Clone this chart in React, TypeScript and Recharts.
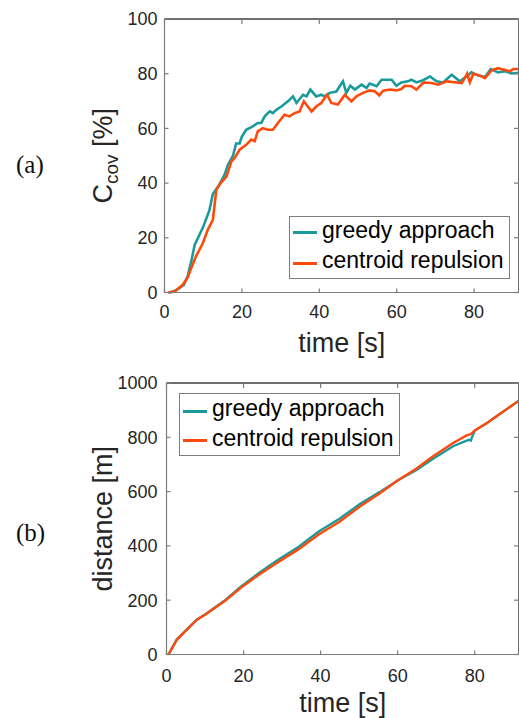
import React from 'react'
import { LineChart, Line, XAxis, YAxis, Legend } from 'recharts'

// coverage C_cov [%] over time [s]
const coverageGreedy: [number, number][] = [
  [1, 0], [2, 0.3], [3, 0.8], [4, 1.8], [5, 2.8], [6, 6], [7, 12], [7.8, 17.4], [9, 21], [10, 24],
  [11.6, 30], [12.5, 36], [14, 39], [15.5, 43], [16.4, 46.7], [17.7, 50], [18.5, 54.5], [19.4, 54.5],
  [20, 57], [21.1, 59.5], [22.8, 60.7], [24.1, 62], [25, 62], [25.9, 64.4], [27.2, 66.2], [28, 65.6],
  [28.9, 66.8], [30.2, 68], [31.9, 69.9], [33.2, 71.7], [34.1, 69.3], [35.8, 72.3], [36.7, 71.7],
  [37.7, 74.2], [39.2, 71.7], [40.5, 72.3], [41.4, 71.7], [42.7, 73], [44.4, 73.5], [46.1, 77.2],
  [47, 73], [48, 75.6], [49.2, 74.2], [50.9, 76], [52.2, 74.8], [53, 76.4], [54.8, 75.4], [56.1, 77.8],
  [58.7, 77.8], [59.9, 75.6], [61.2, 76.8], [62.9, 77.2], [63.8, 77.8], [65.1, 76.8], [66.8, 77.6],
  [68.6, 79], [70.3, 77.2], [72, 76.8], [74.2, 79.6], [76.3, 77.2], [78.1, 79], [79.3, 80.5],
  [81.1, 79.3], [82.8, 78.8], [84.3, 81.7], [86.2, 80.5], [88, 80.9], [89.7, 80.1], [91.6, 80.3],
]

const coverageCentroid: [number, number][] = [
  [1, 0], [2.6, 0.4], [4.7, 2.8], [6, 5.5], [6.9, 8.9], [8.2, 13.4], [9.9, 18], [11.2, 23], [12.5, 26.6],
  [13.4, 37.6], [14.5, 40], [16, 42.4], [17.3, 48], [18.1, 49.1], [19.4, 52.2], [21.1, 54], [22.4, 55.9],
  [23.3, 55.3], [24.1, 58.9], [25.4, 60.1], [26.7, 59.5], [28, 59.5], [29.3, 62], [31, 65], [32.3, 64.4],
  [33.6, 65.6], [34.9, 66.2], [36, 69.9], [38, 66.2], [39.2, 68], [40.5, 69.3], [42, 72.3], [43.1, 69.3],
  [44.8, 68.7], [46.6, 72.3], [48.3, 69.9], [49.6, 71.7], [51.3, 73], [53, 73.9], [54.3, 73.6],
  [55.5, 72.1], [56.5, 73.8], [58.3, 74.2], [59.9, 73.9], [61.2, 74.4], [62.1, 75.6], [63.8, 75.4],
  [65.1, 74.2], [66.8, 76.6], [67.3, 76.8], [69, 76.6], [70.7, 76], [72.9, 77.2], [75.5, 76.8],
  [76.8, 76.6], [77.6, 78.4], [78.2, 80], [78.9, 76.8], [79.8, 80], [81.5, 79.3], [82.8, 78.4],
  [84.5, 81.2], [86.2, 82], [87.5, 81.5], [89.2, 80.9], [90.1, 81.7], [91.6, 81.7],
]

// travelled distance [m] over time [s]
const distanceGreedy: [number, number][] = [
  [0.5, 0], [2.7, 56], [4.9, 87], [7.9, 129], [10.1, 148], [15.3, 201], [19.2, 249], [24, 300],
  [28.3, 343], [34.4, 398], [39.6, 454], [44.9, 500], [50.1, 553], [55.3, 598], [60.1, 642],
  [64.9, 680], [69.2, 721], [74.4, 767], [77.9, 788], [78.6, 791], [79, 788], [79.5, 808],
  [80.1, 826], [83.1, 852], [86.6, 887], [91.5, 935],
]

const distanceCentroid: [number, number][] = [
  [0.5, 0], [2.7, 55], [4.9, 86], [7.9, 128], [10.1, 147], [15.3, 199], [19.2, 245], [24, 294],
  [28.3, 334], [34.4, 389], [39.6, 443], [44.9, 489], [50.1, 544], [55.3, 593], [60.1, 642],
  [64.9, 685], [69.2, 730], [74.4, 779], [77.9, 807], [79, 812], [80.1, 826], [83.1, 852],
  [86.6, 887], [91.5, 935],
]

const timeTicks = [0, 20, 40, 60, 80]
const coverageTicks = [0, 20, 40, 60, 80, 100]
const distanceTicks = [0, 200, 400, 600, 800, 1000]
const seriesNames = ['greedy approach', 'centroid repulsion']

const TEAL = '#1a9b9b'
const ORANGE = '#ff4a0d'
const AXIS = '#7d7d7d'
const TEXT = '#262626'
const SANS = '"Liberation Sans", Arial, sans-serif'
const SERIF = '"Liberation Serif", "Times New Roman", serif'

const toPoints = (arr: [number, number][]) => arr.map(([t, v]) => ({ t, v }))

const tickStyle = { fontSize: 18, fill: TEXT, fontFamily: SANS }
const boxLine = { stroke: AXIS, strokeWidth: 1.2 }
// top/right edges of the box: a bit heavier so they read like the reference frame
const mirrorLine = { stroke: '#6f6f6f', strokeWidth: 2 }
// empty label so the mirrored axes still draw their inward tick marks
const noLabel = () => <g />

function MatLegend({ rows }: { rows: number[] }) {
  const colors = [TEAL, ORANGE]
  return (
    <div style={{ position: 'relative', width: 219, height: 61, border: `1px solid ${AXIS}`, background: '#fff', fontFamily: SANS, fontSize: 23, color: '#000' }}>
      {seriesNames.map((name, i) => (
        <div key={name}>
          <div style={{ position: 'absolute', left: 3, top: rows[i] - 1.5, width: 24, height: 3, background: colors[i] }} />
          <div style={{ position: 'absolute', left: 32, top: rows[i] - 14, lineHeight: '23px', whiteSpace: 'nowrap' }}>{name}</div>
        </div>
      ))}
    </div>
  )
}

function TimeLabel({ viewBox, dyBase }: any) {
  const cx = viewBox.x + viewBox.width / 2
  return (
    <text x={cx} y={viewBox.y + dyBase} textAnchor="middle" fontSize={27} fill={TEXT} fontFamily={SANS}>
      time [s]
    </text>
  )
}

function CoverageLabel({ viewBox }: any) {
  const cy = viewBox.y + viewBox.height / 2
  const x = 112
  return (
    <text x={x} y={cy} transform={`rotate(-90, ${x}, ${cy})`} textAnchor="middle" fontSize={27} fill={TEXT} fontFamily={SANS}>
      C<tspan fontSize={19} dy={6}>cov</tspan><tspan dy={-6}> [%]</tspan>
    </text>
  )
}

function DistanceLabel({ viewBox }: any) {
  const cy = viewBox.y + viewBox.height / 2
  const x = 112
  return (
    <text x={x} y={cy} transform={`rotate(-90, ${x}, ${cy})`} textAnchor="middle" fontSize={27} fill={TEXT} fontFamily={SANS}>
      distance [m]
    </text>
  )
}

// invisible copy of a series so the mirrored top/right box axes get a scale
const boxSeries = (data: { t: number; v: number }[]) => (
  <Line xAxisId="top" yAxisId="right" data={data} dataKey="v" stroke="none" dot={false} activeDot={false}
    legendType="none" isAnimationActive={false} />
)

export default function App() {
  const covG = toPoints(coverageGreedy)
  const covC = toPoints(coverageCentroid)
  const distG = toPoints(distanceGreedy)
  const distC = toPoints(distanceCentroid)

  return (
    <div style={{ position: 'absolute', left: 0, top: 0, width: 519, height: 718, background: '#fff', overflow: 'hidden' }}>
      {/* (a) coverage */}
      <div style={{ position: 'absolute', left: 0, top: 0 }}>
        <LineChart width={520} height={360} margin={{ top: 18, right: 0, bottom: 0, left: 0 }}>
          <XAxis type="number" dataKey="t" domain={[0, 91.6]} allowDataOverflow ticks={timeTicks} height={67.5}
            tickSize={-4} tickMargin={17} tick={tickStyle} axisLine={boxLine} tickLine={boxLine}
            label={{ content: (p: any) => <TimeLabel {...p} dyBase={59.5} /> }} />
          <XAxis xAxisId="top" orientation="top" type="number" dataKey="t" domain={[0, 91.6]} allowDataOverflow ticks={timeTicks}
            height={1} tickSize={-5} tick={noLabel} axisLine={mirrorLine} tickLine={boxLine} />
          <YAxis type="number" domain={[0, 100]} ticks={coverageTicks} width={164.5} tickSize={-4} tickMargin={11}
            tick={tickStyle} axisLine={boxLine} tickLine={boxLine}
            label={{ content: (p: any) => <CoverageLabel {...p} /> }} />
          <YAxis yAxisId="right" orientation="right" type="number" domain={[0, 100]} ticks={coverageTicks} width={1}
            tickSize={-5} tick={noLabel} axisLine={mirrorLine} tickLine={boxLine} />
          <Legend layout="vertical" align="center" verticalAlign="middle" wrapperStyle={{ left: 289, top: 216, width: 221, height: 63 }}
            content={() => <MatLegend rows={[15.7, 46.3]} />} />
          {boxSeries(covG)}
          <Line data={covG} dataKey="v" name={seriesNames[0]} stroke={TEAL} strokeWidth={2.6} dot={false} isAnimationActive={false} type="linear" />
          <Line data={covC} dataKey="v" name={seriesNames[1]} stroke={ORANGE} strokeWidth={2.6} dot={false} isAnimationActive={false} type="linear" />
        </LineChart>
      </div>

      {/* (b) distance */}
      <div style={{ position: 'absolute', left: 0, top: 360 }}>
        <LineChart width={520} height={358} margin={{ top: 22, right: 0, bottom: 0, left: 0 }}>
          <XAxis type="number" dataKey="t" domain={[0, 91.5]} allowDataOverflow ticks={timeTicks} height={63.5}
            tickSize={-4} tickMargin={19} tick={tickStyle} axisLine={boxLine} tickLine={boxLine}
            label={{ content: (p: any) => <TimeLabel {...p} dyBase={57.2} /> }} />
          <XAxis xAxisId="top" orientation="top" type="number" dataKey="t" domain={[0, 91.5]} allowDataOverflow ticks={timeTicks}
            height={1} tickSize={-5} tick={noLabel} axisLine={mirrorLine} tickLine={boxLine} />
          <YAxis type="number" domain={[0, 1000]} ticks={distanceTicks} width={166.5} tickSize={-4} tickMargin={13}
            tick={tickStyle} axisLine={boxLine} tickLine={boxLine}
            label={{ content: (p: any) => <DistanceLabel {...p} /> }} />
          <YAxis yAxisId="right" orientation="right" type="number" domain={[0, 1000]} ticks={distanceTicks} width={1}
            tickSize={-5} tick={noLabel} axisLine={mirrorLine} tickLine={boxLine} />
          <Legend layout="vertical" align="center" verticalAlign="middle" wrapperStyle={{ left: 179, top: 33, width: 221, height: 63 }}
            content={() => <MatLegend rows={[17.4, 46.7]} />} />
          {boxSeries(distG)}
          <Line data={distG} dataKey="v" name={seriesNames[0]} stroke={TEAL} strokeWidth={2.4} dot={false} isAnimationActive={false} type="linear" />
          <Line data={distC} dataKey="v" name={seriesNames[1]} stroke={ORANGE} strokeWidth={2.4} dot={false} isAnimationActive={false} type="linear" />
        </LineChart>
      </div>

      {/* panel letters */}
      <svg width={60} height={718} style={{ position: 'absolute', left: 0, top: 0, pointerEvents: 'none' }}>
        <text x={16} y={173} fontSize={25} fontFamily={SERIF} fill="#111">(a)</text>
        <text x={16} y={541} fontSize={25} fontFamily={SERIF} fill="#111">(b)</text>
      </svg>
    </div>
  )
}
